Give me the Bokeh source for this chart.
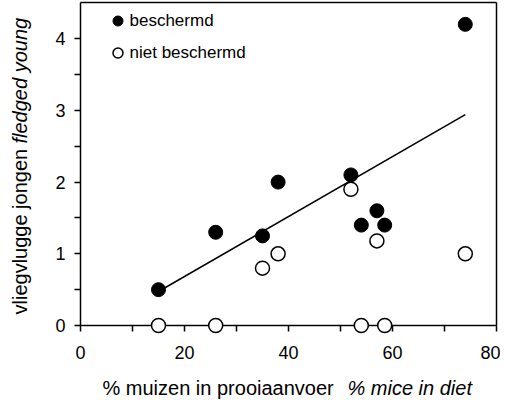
import numpy as np
from bokeh.plotting import figure
from bokeh.models import LinearAxis, FixedTicker, Label, Legend, LegendItem, Range1d
from bokeh.embed import file_html
from bokeh.resources import INLINE

# ---- data ----
prot_x = [15, 26, 35, 38, 52, 54, 57, 58.5, 74]
prot_y = [0.5, 1.3, 1.25, 2.0, 2.1, 1.4, 1.6, 1.4, 4.2]
unprot_x = [15, 26, 35, 38, 52, 54, 57, 58.5, 74]
unprot_y = [0, 0, 0.8, 1.0, 1.9, 0, 1.18, 0, 1.0]
x_ticks = [0, 20, 40, 60, 80]
x_minor = [10, 30, 50, 70]
y_ticks = [0, 1, 2, 3, 4]
y_minor = [0.5, 1.5, 2.5, 3.5]
label_prot = "beschermd"
label_unprot = "niet beschermd"
x_title = "% muizen in prooiaanvoer"
x_title_it = "% mice in diet"
y_title = "vliegvlugge jongen"
y_title_it = "fledged young"

FONT = "Liberation Sans"
W, H = 500, 400
# canvas pixel position of the data origin and scale (layout only)
OX, OY = 80.0, 325.0
SX, SY = 5.2, 71.7
XMAX, YMAX = 80, 4.5

def dx(px):
    return (px - OX) / SX
def dy(py):
    return (OY - py) / SY

p = figure(width=W, height=H,
           x_range=Range1d(dx(0), dx(W)), y_range=Range1d(dy(H), dy(0)),
           output_backend="svg", toolbar_location=None,
           x_axis_location=None, y_axis_location=None,
           min_border=0)
p.xgrid.grid_line_color = None
p.ygrid.grid_line_color = None
p.outline_line_color = None
p.border_fill_color = "white"
p.background_fill_color = "white"

def style_axis(ax):
    ax.axis_line_color = "black"
    ax.axis_line_width = 1.5
    ax.major_tick_line_color = "black"
    ax.minor_tick_line_color = "black"
    ax.major_tick_line_width = 1.5
    ax.minor_tick_line_width = 1.5
    ax.major_tick_in = 0
    ax.minor_tick_in = 0
    ax.major_tick_out = 6
    ax.minor_tick_out = 6
    ax.major_label_text_font = FONT
    ax.major_label_text_font_size = "18px"
    ax.major_label_text_color = "black"

xb = LinearAxis(ticker=FixedTicker(ticks=x_ticks, minor_ticks=x_minor),
                fixed_location=0, bounds=(0, XMAX))
style_axis(xb)
xb.major_label_standoff = 14
p.add_layout(xb, "below")

yl = LinearAxis(ticker=FixedTicker(ticks=y_ticks, minor_ticks=y_minor),
                fixed_location=0, bounds=(0, YMAX))
style_axis(yl)
yl.major_label_standoff = 9
p.add_layout(yl, "left")

for loc, fixed, bnds in (("above", YMAX, (0, XMAX)), ("right", XMAX, (0, YMAX))):
    ax = LinearAxis(ticker=FixedTicker(ticks=[]), fixed_location=fixed, bounds=bnds)
    ax.axis_line_color = "black"
    ax.axis_line_width = 1.5
    ax.major_tick_out = 0
    ax.minor_tick_out = 0
    ax.major_tick_in = 0
    ax.minor_tick_in = 0
    ax.major_label_standoff = 0
    ax.major_label_text_font_size = "0px"
    p.add_layout(ax, loc)

# regression line of the protected nests
coef = np.polyfit(prot_x, prot_y, 1)
lx = np.array([min(prot_x), max(prot_x)])
p.line(lx, np.polyval(coef, lx), line_color="black", line_width=1.5)

r_open = p.scatter(unprot_x, unprot_y, size=14, marker="circle",
                   fill_color="white", line_color="black", line_width=1.5)
r_fill = p.scatter(prot_x, prot_y, size=14, marker="circle",
                   fill_color="black", line_color="black", line_width=1)
r_open.level = "overlay"
r_fill.level = "overlay"

legend = Legend(items=[LegendItem(label=label_prot, renderers=[r_fill]),
                       LegendItem(label=label_unprot, renderers=[r_open])],
                location=(104.5, H - 65))
legend.border_line_color = None
legend.background_fill_alpha = 0
legend.padding = 0
legend.margin = 0
legend.spacing = 7
legend.glyph_width = 25
legend.glyph_height = 25
legend.label_height = 25
legend.label_standoff = 0
legend.label_text_font = FONT
legend.label_text_font_size = "17px"
legend.label_text_color = "black"
p.add_layout(legend, "center")

# axis titles (mixed upright / italic)
lab_kw = dict(text_font=FONT, text_font_size="20px", text_color="black",
              text_baseline="alphabetic", text_align="left")
p.add_layout(Label(x=dx(102), y=dy(387), text=x_title, **lab_kw))
p.add_layout(Label(x=dx(347), y=dy(387), text=x_title_it, text_font_style="italic", **lab_kw))
p.add_layout(Label(x=dx(19), y=dy(314), angle=np.pi / 2, text=y_title, **lab_kw))
p.add_layout(Label(x=dx(19), y=dy(143), angle=np.pi / 2, text=y_title_it,
                   text_font_style="italic", **lab_kw))

open("out.html", "w").write(file_html(p, INLINE))
